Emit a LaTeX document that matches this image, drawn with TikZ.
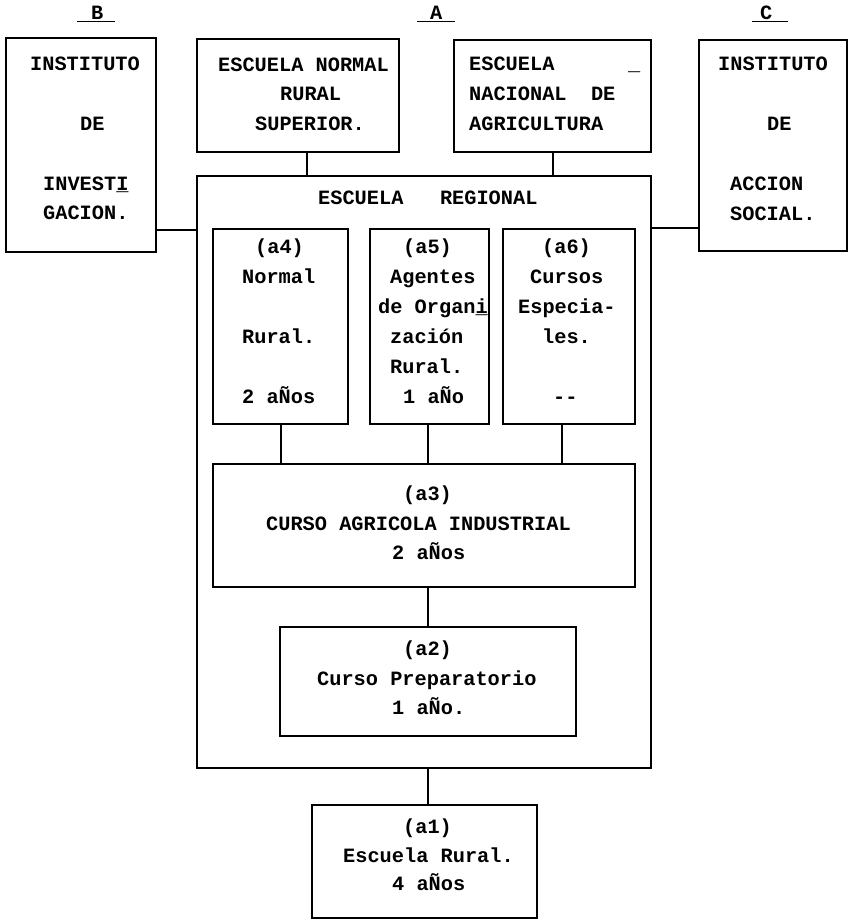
\documentclass[tikz,border=0pt]{standalone}
\usepackage{fontspec}
\setmonofont{Liberation Mono}
\newcommand\NTil{\char"00D1\relax}
\begin{document}
\begin{tikzpicture}[x=1pt,y=-1pt,
  box/.style={draw,line width=2pt,inner sep=0pt,minimum width=#1},
  txt/.style={font=\ttfamily\bfseries\fontsize{20.3}{24}\selectfont,inner sep=0pt,anchor=base west},
  link/.style={line width=2pt},
  uline/.style={line width=1.3pt}]
\useasboundingbox (0,0) rectangle (852,921);
% boxes
\node[box=150pt,minimum height=214pt] (boxB) at (81,145) {};
\node[box=202pt,minimum height=113pt] (enrs) at (298,95.5) {};
\node[box=197pt,minimum height=112pt] (ena) at (552.5,96) {};
\node[box=148pt,minimum height=211pt] (boxC) at (773,145.5) {};
\node[box=454pt,minimum height=592pt] (er) at (424,472) {};
\node[box=135pt,minimum height=195pt] (a4) at (280.5,326.5) {};
\node[box=119pt,minimum height=195pt] (a5) at (429.5,326.5) {};
\node[box=132pt,minimum height=195pt] (a6) at (569,326.5) {};
\node[box=422pt,minimum height=123pt] (a3) at (424,525.5) {};
\node[box=296pt,minimum height=109pt] (a2) at (428,681.5) {};
\node[box=225pt,minimum height=113pt] (a1) at (424.5,861.5) {};
% connectors
\draw[link] ([xshift=9pt]enrs.south) -- ([xshift=9pt]enrs.south |- er.north);
\draw[link] (ena.south) -- (ena.south |- er.north);
\draw[link] ([yshift=-85pt]boxB.east) -- ([yshift=-85pt]boxB.east -| er.west);
\draw[link] ([yshift=-82.5pt]boxC.west) -- ([yshift=-82.5pt]boxC.west -| er.east);
\draw[link] (a4.south) -- (a4.south |- a3.north);
\draw[link] ([xshift=-1.5pt]a5.south) -- ([xshift=-1.5pt]a5.south |- a3.north);
\draw[link] ([xshift=-7pt]a6.south) -- ([xshift=-7pt]a6.south |- a3.north);
\draw[link] (a2.north |- a3.south) -- (a2.north);
\draw[link] ([xshift=3.5pt]a1.north |- er.south) -- ([xshift=3.5pt]a1.north);
% column labels
\node[txt] (lB) at (91,19) {B};
\node[txt] (lA) at (430,19) {A};
\node[txt] (lC) at (760,19) {C};
\draw[uline] (77,21.5) -- (115,21.5);
\draw[uline] (417,21.5) -- (455,21.5);
\draw[uline] (752,21.5) -- (788,21.5);
% B
\node[txt] (tB1) at (30,70) {INSTITUTO};
\node[txt] (tB2) at (80,130) {DE};
\node[txt] (tB3) at (43,190) {INVEST\rlap{\_}I};
\node[txt] (tB4) at (43,219) {GACION.};
% ENRS
\node[txt] (tN1) at (218,71) {ESCUELA NORMAL};
\node[txt] (tN2) at (280,100) {RURAL};
\node[txt] (tN3) at (255,130) {SUPERIOR.};
% ENA
\node[txt] (tE1) at (469,70) {ESCUELA};
\node[txt] (tE2) at (469,100) {NACIONAL\ \ DE};
\node[txt] (tE3) at (469,130) {AGRICULTURA};
\node[txt] (tE4) at (628,70) {\_};
% C
\node[txt] (tC1) at (718,70) {INSTITUTO};
\node[txt] (tC2) at (767,130) {DE};
\node[txt] (tC3) at (730,190) {ACCION};
\node[txt] (tC4) at (730,220) {SOCIAL.};
% ER title
\node[txt] (tR) at (318,204) {ESCUELA\ \ \ REGIONAL};
% a4
\node[txt] (t41) at (255,253) {(a4)};
\node[txt] (t42) at (242,283) {Normal};
\node[txt] (t43) at (242,343) {Rural.};
\node[txt] (t44) at (242,403) {2 a\NTil os};
% a5
\node[txt] (t51) at (403,253) {(a5)};
\node[txt] (t52) at (390,283) {Agentes};
\node[txt] (t53) at (378,313) {de Organ\rlap{\_}i};
\node[txt] (t54) at (390,343) {zación};
\node[txt] (t55) at (390,373) {Rural.};
\node[txt] (t56) at (403,403) {1 a\NTil o};
% a6
\node[txt] (t61) at (542,253) {(a6)};
\node[txt] (t62) at (530,283) {Cursos};
\node[txt] (t63) at (518,313) {Especia-};
\node[txt] (t64) at (542,343) {les.};
\node[txt] (t65) at (553,403) {-{}-};
% a3
\node[txt] (t31) at (403,500) {(a3)};
\node[txt] (t32) at (266,530) {CURSO AGRICOLA INDUSTRIAL};
\node[txt] (t33) at (392,559) {2 a\NTil os};
% a2
\node[txt] (t21) at (403,655) {(a2)};
\node[txt] (t22) at (317,685) {Curso Preparatorio};
\node[txt] (t23) at (392,714) {1 a\NTil o.};
% a1
\node[txt] (t11) at (403,833) {(a1)};
\node[txt] (t12) at (343,862) {Escuela Rural.};
\node[txt] (t13) at (392,890) {4 a\NTil os};
\end{tikzpicture}
\end{document}
